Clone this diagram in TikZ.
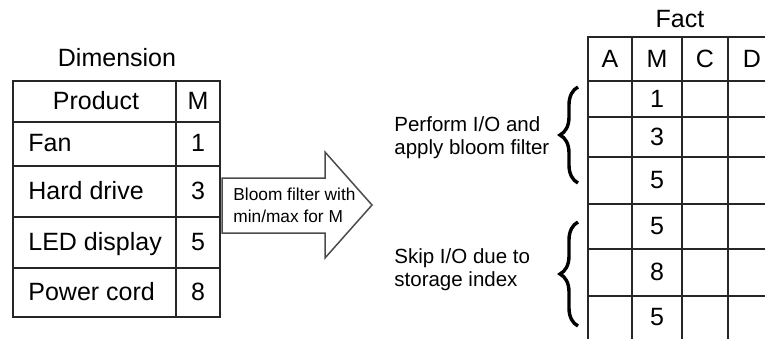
\documentclass[tikz,border=0pt]{standalone}
\usepackage{fontspec}
\setmainfont{Liberation Sans}
\usetikzlibrary{positioning,decorations.pathreplacing}

\begin{document}
\begin{tikzpicture}[%
        x=0.5pt, y=-0.5pt,
        tabline/.style={draw=black!85, line width=0.75pt},
        tabcell/.style={font=\fontsize{12.5}{14}\selectfont, inner sep=0pt, anchor=base},
        rowlabel/.style={tabcell, anchor=base west},
        sidenote/.style={font=\fontsize{10.25}{11.5}\selectfont, align=left, inner sep=0pt, anchor=west},
        bigarrow/.style={draw=black!70, fill=white, line width=0.75pt, line join=miter},
        curly/.style={decorate, decoration={brace, amplitude=9pt}, line width=1.7pt}]
        \useasboundingbox (0,0) rectangle (765,339);

        % Dimension table
        \draw[tabline] (13,81) rectangle (220,317);
        \draw[tabline] (176,81) -- (176,317);
        \draw[tabline] (13,122) -- (220,122);
        \draw[tabline] (13,166) -- (220,166);
        \draw[tabline] (13,217) -- (220,217);
        \draw[tabline] (13,268) -- (220,268);

        \node [tabcell] (dimtitle) at (117,66) {Dimension};
        \node [tabcell] (prodhead) at (96,109) {Product};
        \node [tabcell] (mhead) at (198,109) {M};
        \node [rowlabel] (fan) at (28,151.5) {Fan};
        \node [rowlabel] (hdd) at (28,199) {Hard drive};
        \node [rowlabel] (led) at (28,250) {LED display};
        \node [rowlabel] (cord) at (28,300) {Power cord};
        \node [tabcell] (mfan) at (198,151.5) {1};
        \node [tabcell] (mhdd) at (198,199) {3};
        \node [tabcell] (mled) at (198,250) {5};
        \node [tabcell] (mcord) at (198,300) {8};

        % Arrow
        \draw[bigarrow] (222,178) -- (325,178) -- (325,152) -- (372,205)
            -- (325,258) -- (325,233) -- (222,233) -- cycle;
        \node [sidenote, font=\fontsize{8.65}{11}\selectfont] (bloom) at (233,205)
            {Bloom filter with\\min/max for M};

        % Fact table
        \draw[tabline] (588,339) -- (588,37) -- (765,37);
        \draw[tabline] (632,37) -- (632,339);
        \draw[tabline] (682,37) -- (682,339);
        \draw[tabline] (728,37) -- (728,339);
        \draw[tabline] (588,81) -- (765,81);
        \draw[tabline] (588,117) -- (765,117);
        \draw[tabline] (588,157) -- (765,157);
        \draw[tabline] (588,204) -- (765,204);
        \draw[tabline] (588,249) -- (765,249);
        \draw[tabline] (588,296) -- (765,296);

        \node [tabcell] (facttitle) at (680,27) {Fact};
        \node [tabcell] (ahead) at (610,67) {A};
        \node [tabcell] (fmhead) at (657,67) {M};
        \node [tabcell] (chead) at (705,67) {C};
        \node [tabcell] (dhead) at (752,67) {D};
        \node [tabcell] (row1) at (657,107) {1};
        \node [tabcell] (row2) at (657,145) {3};
        \node [tabcell] (row3) at (657,188.5) {5};
        \node [tabcell] (row4) at (657,234.5) {5};
        \node [tabcell] (row5) at (657,280.5) {8};
        \node [tabcell] (row6) at (657,325.5) {5};

        % Braces
        \coordinate (io top) at (578,87);
        \coordinate (io bottom) at (578,183);
        \coordinate (skip top) at (578,222);
        \coordinate (skip bottom) at (578,326);
        \draw[curly] (io bottom) -- (io top);
        \draw[curly] (skip bottom) -- (skip top);

        \node [sidenote] (perform) at (394,138) {Perform I/O and\\apply bloom filter};
        \node [sidenote] (skip) at (394,270) {Skip I/O due to\\storage index};
\end{tikzpicture}
\end{document}
